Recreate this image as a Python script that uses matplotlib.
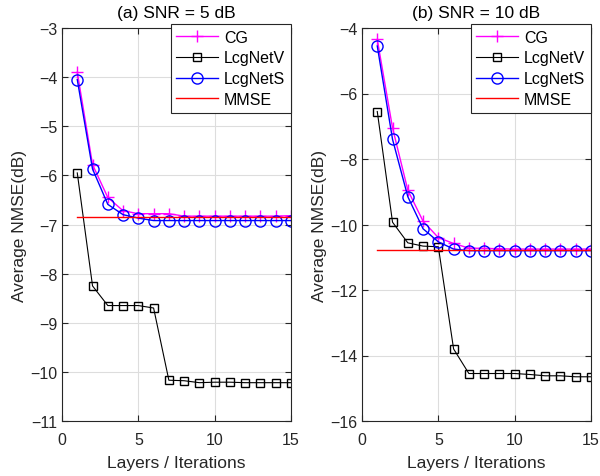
import matplotlib
matplotlib.use("Agg")
import matplotlib.pyplot as plt
import numpy as np

plt.rcParams['font.family'] = ['Liberation Sans', 'DejaVu Sans']

layers = np.arange(1, 16)

# (a) SNR = 5 dB
cg_a = [-3.9, -5.78, -6.45, -6.72, -6.78, -6.78, -6.78, -6.83, -6.83, -6.83, -6.83, -6.83, -6.83, -6.83, -6.82]
netv_a = [-5.95, -8.25, -8.65, -8.65, -8.65, -8.7, -10.17, -10.18, -10.22, -10.21, -10.21, -10.22, -10.22, -10.22, -10.22]
nets_a = [-4.05, -5.87, -6.59, -6.8, -6.87, -6.92, -6.92, -6.92, -6.92, -6.92, -6.92, -6.92, -6.92, -6.92, -6.92]
mmse_a = -6.84

# (b) SNR = 10 dB
cg_b = [-4.35, -7.05, -8.95, -9.9, -10.4, -10.58, -10.72, -10.73, -10.74, -10.75, -10.75, -10.75, -10.75, -10.75, -10.75]
netv_b = [-6.55, -9.93, -10.56, -10.66, -10.68, -13.8, -14.55, -14.55, -14.55, -14.55, -14.58, -14.62, -14.62, -14.65, -14.65]
nets_b = [-4.55, -7.4, -9.15, -10.13, -10.53, -10.75, -10.8, -10.8, -10.8, -10.8, -10.8, -10.8, -10.8, -10.8, -10.8]
mmse_b = -10.77

titles = ['(a) SNR = 5 dB', '(b) SNR = 10 dB']
ylims = [(-11, -3), (-16, -4)]
yticks = [np.arange(-11, -2, 1), np.arange(-16, -3, 2)]

fig = plt.figure(figsize=(6, 4.77), dpi=100)
axes = [fig.add_axes([62/600, 1 - 422/477, 229/600, 393/477]),
        fig.add_axes([362/600, 1 - 422/477, 229/600, 393/477])]

data = [(cg_a, netv_a, nets_a, mmse_a), (cg_b, netv_b, nets_b, mmse_b)]

for i, ax in enumerate(axes):
    cg, netv, nets, mmse = data[i]
    ax.plot(layers, cg, color='magenta', marker='+', ms=9, lw=1, label='CG')
    ax.plot(layers, netv, color='black', marker='s', ms=6, mfc='none', lw=0.8, label='LcgNetV')
    ax.plot(layers, nets, color='blue', marker='o', ms=8, mfc='none', lw=1, label='LcgNetS')
    ax.plot(layers, [mmse] * len(layers), color='red', lw=1, label='MMSE')
    ax.set_xlim(0, 15)
    ax.set_ylim(*ylims[i])
    ax.set_xticks([0, 5, 10, 15])
    ax.set_yticks(yticks[i])
    ax.grid(True, color='#dddddd', lw=0.8)
    ax.set_axisbelow(True)
    ax.tick_params(direction='in', top=True, right=True, labelsize=11.5, colors='#262626', length=4)
    ax.tick_params(axis='x', pad=8)
    for s in ax.spines.values():
        s.set_color('#262626')
        s.set_linewidth(0.8)
    ax.set_title(titles[i], fontsize=12.5, pad=8)
    ax.set_xlabel('Layers / Iterations', fontsize=12.5, color='#262626', labelpad=6)
    ax.set_ylabel('Average NMSE(dB)', fontsize=12.5, color='#262626', labelpad=2)
    leg = ax.legend(loc='upper right', fontsize=11.5, handlelength=2.6, borderaxespad=0,
                    fancybox=False, framealpha=1, edgecolor='#262626', borderpad=0.35,
                    labelspacing=0.36, handletextpad=0.4, bbox_to_anchor=(1.0, 1.01))
    leg.get_frame().set_linewidth(0.8)

fig.savefig('out.png', dpi=100)
